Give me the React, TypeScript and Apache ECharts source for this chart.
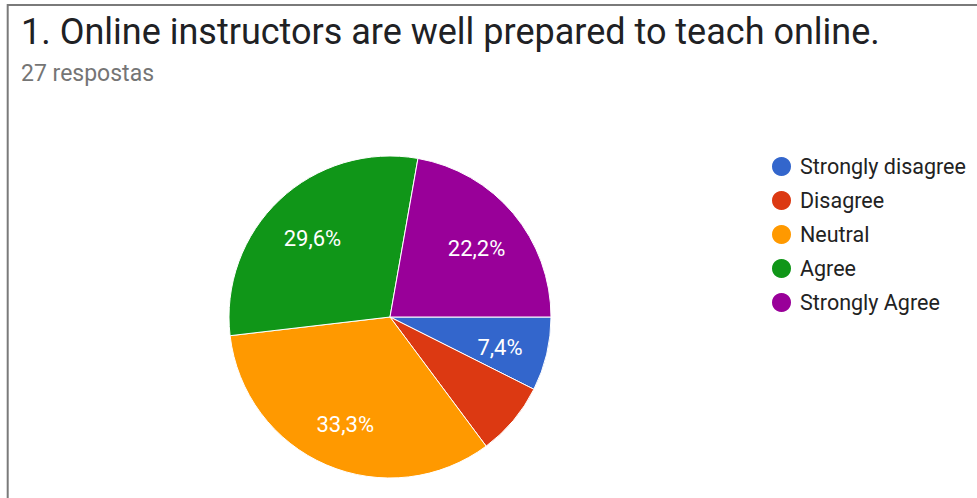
import React, { useEffect, useRef } from "react";
import * as echarts from "echarts";

const titleText = "1. Online instructors are well prepared to teach online.";
const subtitleText = "27 respostas";
const categories = ["Strongly disagree", "Disagree", "Neutral", "Agree", "Strongly Agree"];
const counts = [2, 2, 9, 8, 6];
const labels = ["7,4%", "", "33,3%", "29,6%", "22,2%"];
const colors = ["#3366cc", "#dc3912", "#ff9900", "#109618", "#990099"];

export default function App() {
  const ref = useRef<HTMLDivElement>(null);
  useEffect(() => {
    if (!ref.current) return;
    const chart = echarts.init(ref.current, undefined, { renderer: "svg" });
    const font = "Roboto, 'Noto Sans', Arial, sans-serif";
    chart.setOption({
      animation: false,
      backgroundColor: "#ffffff",
      textStyle: { fontFamily: font },
      title: [
        {
          text: titleText,
          left: 21,
          top: 14,
          padding: 0,
          textStyle: { fontSize: 36, fontWeight: "normal", color: "#202124", fontFamily: font },
        },
        {
          text: subtitleText,
          left: 21,
          top: 62,
          padding: 0,
          textStyle: { fontSize: 23, fontWeight: "normal", color: "#757575", fontFamily: font },
        },
      ],
      legend: {
        orient: "vertical",
        left: 765,
        top: 150,
        icon: "circle",
        itemWidth: 21,
        itemHeight: 21,
        itemGap: 11,
        data: categories,
        textStyle: {
          fontSize: 21.5,
          color: "#222222",
          fontFamily: font,
          padding: [0, 0, 0, 3],
        },
      },
      graphic: [
        { type: "line", shape: { x1: 7, y1: 5, x2: 977, y2: 5 }, style: { stroke: "#7a7a7a", lineWidth: 2 } },
        { type: "line", shape: { x1: 7.7, y1: 4, x2: 7.7, y2: 498 }, style: { stroke: "#7a7a7a", lineWidth: 2 } },
      ],
      series: [
        {
          type: "pie",
          center: [390, 317],
          radius: [0, 161],
          startAngle: 0,
          clockwise: true,
          label: { show: false },
          labelLine: { show: false },
          itemStyle: { borderColor: "#ffffff", borderWidth: 1 },
          emphasis: { disabled: true },
          data: categories.map((c, i) => ({ name: c, value: counts[i], itemStyle: { color: colors[i] } })),
        },
        {
          type: "pie",
          center: [390, 321],
          radius: [0, 220],
          startAngle: 0,
          clockwise: true,
          silent: true,
          legendHoverLink: false,
          itemStyle: { color: "rgba(0,0,0,0)", borderWidth: 0 },
          emphasis: { disabled: true },
          labelLine: { show: false },
          label: {
            show: true,
            position: "inside",
            color: "#ffffff",
            fontSize: 22,
            fontFamily: font,
            formatter: (p: any) => labels[p.dataIndex],
          },
          data: categories.map((c, i) => ({ name: c, value: counts[i], itemStyle: { color: "rgba(0,0,0,0)" } })),
        },
      ],
    });
    return () => chart.dispose();
  }, []);
  return (
    <div
      ref={ref}
      style={{ position: "fixed", left: 0, top: 0, width: 977, height: 498, background: "#fff" }}
    />
  );
}
